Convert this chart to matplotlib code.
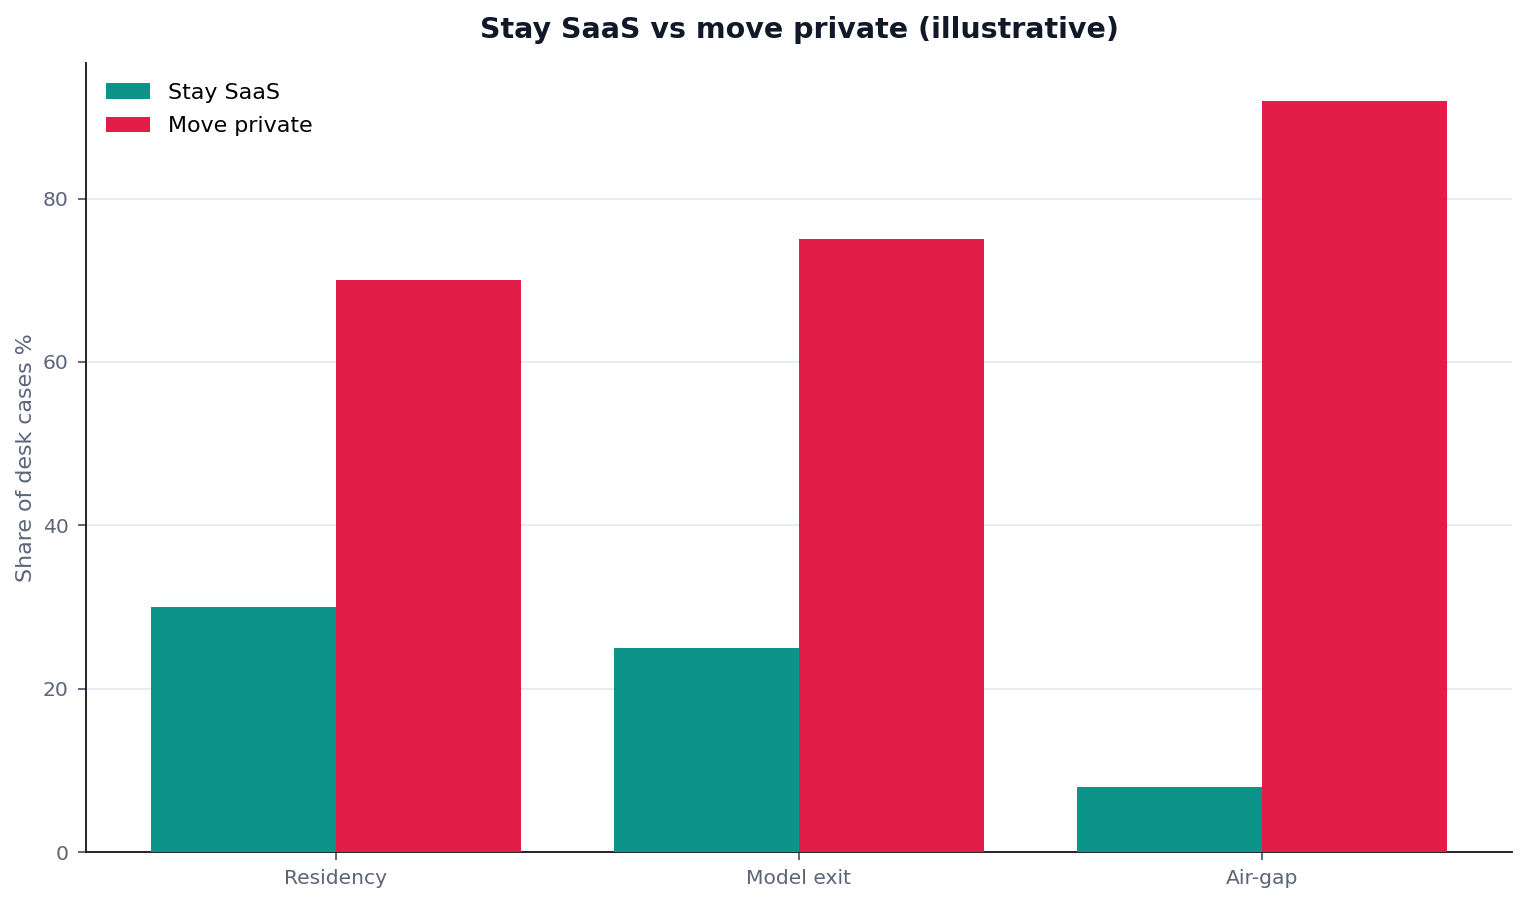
import matplotlib
matplotlib.use("Agg")
from matplotlib import pyplot as plt
import numpy as np

categories = ["Residency", "Model exit", "Air-gap"]
stay_saas = [30, 25, 8]
move_private = [70, 75, 92]

plt.rcParams['font.family'] = ['DejaVu Sans']

DPI = 114
fig, ax = plt.subplots(figsize=(1528 / DPI, 903 / DPI), dpi=DPI)
x = np.arange(len(categories))
w = 0.4

ax.bar(x - w / 2, stay_saas, w, color="#0d9488", label="Stay SaaS", zorder=3)
ax.bar(x + w / 2, move_private, w, color="#e11d48", label="Move private", zorder=3)

ax.set_xticks(x)
ax.set_xticklabels(categories)
ax.set_ylabel("Share of desk cases %", fontsize=14, color="#5b6478", labelpad=4)
ax.set_title("Stay SaaS vs move private (illustrative)", fontsize=18,
             fontweight="bold", color="#111827", pad=16)

ax.tick_params(axis="both", labelsize=12.8, colors="#5b6478",
               length=5, width=1.2, pad=6)
ax.grid(axis="y", color="#e5e7eb", linewidth=1, zorder=0)
ax.spines["top"].set_visible(False)
ax.spines["right"].set_visible(False)
for side in ["left", "bottom"]:
    ax.spines[side].set_color("#1f1f1f")
    ax.spines[side].set_linewidth(1.2)

ax.legend(loc="upper left", frameon=False, fontsize=14, labelspacing=0.6)

plt.subplots_adjust(left=86 / 1528, right=1512 / 1528, top=1 - 63 / 903, bottom=1 - 852 / 903)
plt.savefig("out.png", dpi=DPI)
